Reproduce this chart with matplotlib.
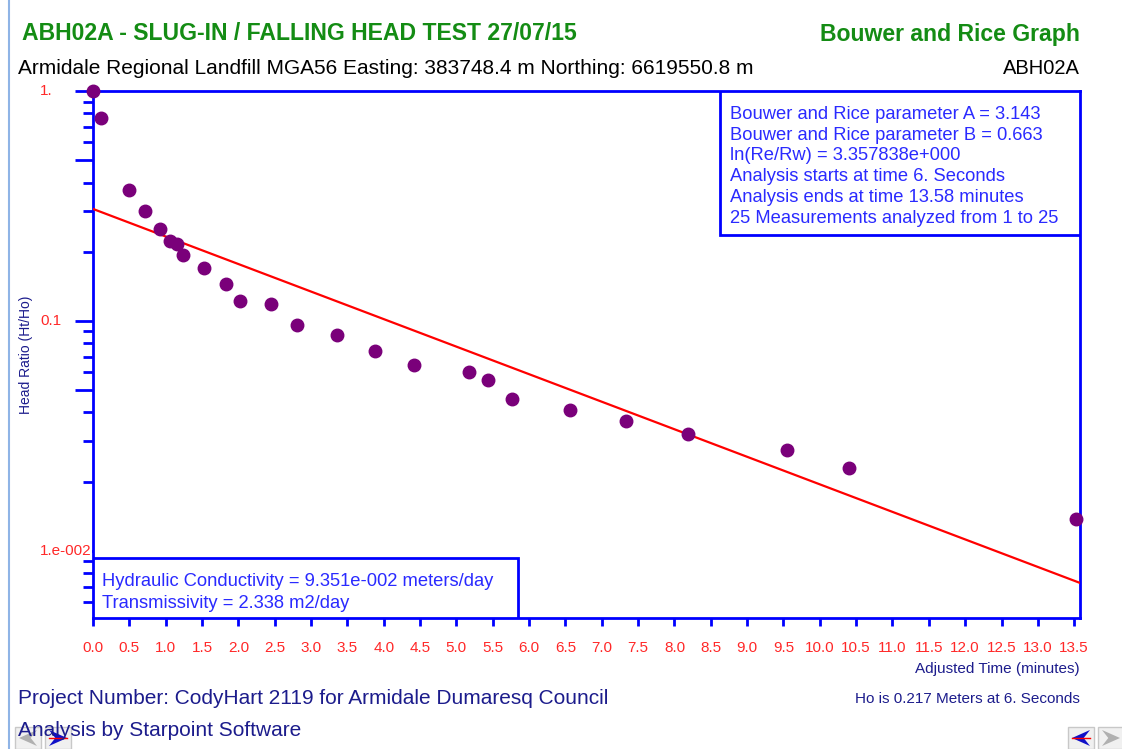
import numpy as np
import matplotlib.pyplot as plt
from matplotlib.patches import Rectangle, Polygon
from matplotlib.lines import Line2D
from matplotlib.ticker import FixedLocator, FixedFormatter, NullFormatter

plt.rcParams["font.family"] = ["Liberation Sans", "DejaVu Sans"]

# measured head ratio vs adjusted time (minutes)
time_min = [0.0, 0.11, 0.50, 0.72, 0.92, 1.06, 1.16, 1.24, 1.53, 1.83, 2.02, 2.45, 2.81,
            3.36, 3.88, 4.42, 5.18, 5.44, 5.76, 6.56, 7.34, 8.18, 9.55, 10.40, 13.53]
head_ratio = [1.0, 0.763, 0.371, 0.301, 0.251, 0.223, 0.216, 0.194, 0.170, 0.145, 0.122,
              0.119, 0.096, 0.0869, 0.0741, 0.0644, 0.060, 0.0554, 0.0458, 0.041, 0.0367,
              0.0323, 0.0275, 0.0230, 0.0138]

# Bouwer-Rice fitted straight line (end points)
fit_time = [0.0, 13.58]
fit_ratio = [0.307, 0.00726]

x_ticks = np.arange(0, 13.51, 0.5)
y_major = [0.01, 0.05, 0.1, 0.5, 1.0]
y_major_labels = ["1.e-002", "", "0.1", "", "1."]
y_minor = [0.006, 0.007, 0.008, 0.009, 0.02, 0.03, 0.04, 0.06, 0.07, 0.08, 0.09,
           0.2, 0.3, 0.4, 0.6, 0.7, 0.8, 0.9]

info_lines = ["Bouwer and Rice parameter A = 3.143",
              "Bouwer and Rice parameter B = 0.663",
              "ln(Re/Rw) = 3.357838e+000",
              "Analysis starts at time 6. Seconds",
              "Analysis ends at time 13.58 minutes",
              "25 Measurements analyzed from 1 to 25"]
result_lines = ["Hydraulic Conductivity = 9.351e-002 meters/day",
                "Transmissivity = 2.338 m2/day"]

blue = "#0000ff"
txt_blue = "#2a2aff"
navy = "#1c1c8c"
red = "#ff2828"
green = "#148c14"

fig = plt.figure(figsize=(11.22, 7.49), dpi=100)
ax = fig.add_axes([93 / 1122, 1 - 618 / 749, 987 / 1122, 527 / 749])

ax.plot(time_min, head_ratio, "o", color="#7a007a", markersize=9, zorder=4, clip_on=False)
ax.plot(fit_time, fit_ratio, color="#ff0000", linewidth=1.6, zorder=3)

ax.set_yscale("log")
ax.set_xlim(0, 13.58)
ax.set_ylim(0.00511, 1.0)

ax.yaxis.set_major_locator(FixedLocator(y_major))
ax.yaxis.set_major_formatter(FixedFormatter(y_major_labels))
ax.yaxis.set_minor_locator(FixedLocator(y_minor))
ax.yaxis.set_minor_formatter(NullFormatter())
ax.set_xticks(x_ticks)
ax.set_xticklabels([f"{v:.1f}" for v in x_ticks])

ax.tick_params(axis="y", which="major", direction="out", length=13, width=2,
               color=blue, labelcolor=red, labelsize=11, pad=25)
ax.tick_params(axis="y", which="minor", direction="out", length=7, width=2, color=blue)
ax.tick_params(axis="x", which="major", direction="out", length=6, width=2,
               color=blue, labelcolor=red, labelsize=11, pad=10.5)
for lab in ax.get_yticklabels():
    lab.set_horizontalalignment("left")
    lab.set_verticalalignment("center")
    lab.set_bbox(dict(facecolor="white", edgecolor="none", pad=0))
for s in ax.spines.values():
    s.set_color(blue)
    s.set_linewidth(2)

ax.set_ylabel("Head Ratio (Ht/Ho)", color=navy, fontsize=10)
ax.yaxis.set_label_coords(-0.061, 0.5)
ax.text(1.0, -0.096, "Adjusted Time (minutes)", transform=ax.transAxes,
        ha="right", va="center", color=navy, fontsize=11)

# info box top right
ax.add_patch(Rectangle((0.635, 0.727), 0.365, 0.273, transform=ax.transAxes,
                       facecolor="white", edgecolor=blue, linewidth=2, zorder=5))
for i, line in enumerate(info_lines):
    ax.text(0.645, 0.956 - i * 0.0395, line, transform=ax.transAxes, ha="left",
            va="center", color=txt_blue, fontsize=13.2, zorder=6)

# results box bottom left
ax.add_patch(Rectangle((0.0, 0.0), 0.4306, 0.114, transform=ax.transAxes,
                       facecolor="white", edgecolor=blue, linewidth=2, zorder=5))
for i, line in enumerate(result_lines):
    ax.text(0.009, 0.070 - i * 0.042, line, transform=ax.transAxes, ha="left",
            va="center", color=txt_blue, fontsize=13.2, zorder=6)

# titles
fig.text(22 / 1122, 1 - 34 / 749, "ABH02A - SLUG-IN / FALLING HEAD TEST 27/07/15",
         ha="left", va="center", color=green, fontsize=16.6, fontweight="bold")
fig.text(1080 / 1122, 1 - 34 / 749, "Bouwer and Rice Graph",
         ha="right", va="center", color=green, fontsize=16.6, fontweight="bold")
fig.text(18 / 1122, 1 - 69 / 749,
         "Armidale Regional Landfill MGA56 Easting: 383748.4 m Northing: 6619550.8 m",
         ha="left", va="center", color="black", fontsize=15)
fig.text(1080 / 1122, 1 - 69 / 749, "ABH02A", ha="right", va="center",
         color="black", fontsize=14.5)

# footer
fig.text(18 / 1122, 1 - 698 / 749, "Project Number: CodyHart 2119 for Armidale Dumaresq Council",
         ha="left", va="center", color=navy, fontsize=15)
fig.text(18 / 1122, 1 - 730 / 749, "Analysis by Starpoint Software",
         ha="left", va="center", color=navy, fontsize=15)
fig.text(1080 / 1122, 1 - 699 / 749, "Ho is 0.217 Meters at 6. Seconds",
         ha="right", va="center", color=navy, fontsize=11)

# window border and navigation buttons
fig.add_artist(Line2D([9 / 1122, 9 / 1122], [0, 1], color="#8fb4e6", linewidth=1.5))

def button(x0, pointing_left, active):
    w, h = 26 / 1122, 22 / 749
    y0 = 0.0
    fig.add_artist(Rectangle((x0, y0), w, h, facecolor="#f0f0f0", edgecolor="#c8c8c8",
                             linewidth=1, transform=fig.transFigure))
    cx, cy = x0 + w / 2, y0 + h / 2
    dx, dy = 9 / 1122, 8 / 749
    if pointing_left:
        pts = [(cx - dx, cy), (cx + dx, cy + dy), (cx + dx * 0.3, cy), (cx + dx, cy - dy)]
    else:
        pts = [(cx + dx, cy), (cx - dx, cy + dy), (cx - dx * 0.3, cy), (cx - dx, cy - dy)]
    col = "#1010c8" if active else "#b0b0b0"
    fig.add_artist(Polygon(pts, closed=True, facecolor=col, edgecolor="none",
                           transform=fig.transFigure))
    if active:
        fig.add_artist(Line2D([cx - dx, cx + dx], [cy, cy], color="red", linewidth=1,
                              transform=fig.transFigure))

button(15 / 1122, True, False)
button(45 / 1122, False, True)
button(1068 / 1122, True, True)
button(1098 / 1122, False, False)

fig.savefig("out.png", dpi=100, facecolor="white")
